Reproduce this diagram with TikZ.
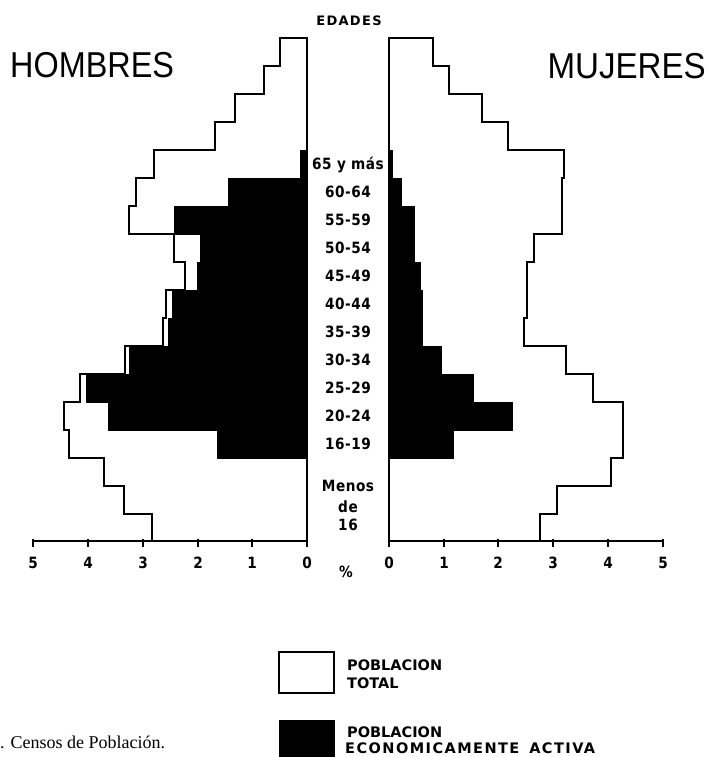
\documentclass[tikz,border=0pt]{standalone}
\usepackage{fontspec}
\setmainfont{Liberation Serif}
\newfontfamily\titlefont{Liberation Sans}
\newfontfamily\labfont{DejaVu Sans}[LetterSpace=4]
\newfontfamily\edfont{DejaVu Sans}[LetterSpace=10]
\newfontfamily\legfont{DejaVu Sans}
\newfontfamily\legwide{DejaVu Sans}[LetterSpace=10]
\begin{document}
\begin{tikzpicture}[x=1pt,y=-1pt,
  lab/.style={font={\labfont\bfseries\fontsize{15.5}{16}\selectfont},xscale=0.88,inner sep=0pt,anchor=base},
  leg/.style={font={\legfont\bfseries\fontsize{14.5}{15}\selectfont},inner sep=0pt,anchor=base west},
  ttl/.style={font={\titlefont\fontsize{36}{36}\selectfont},inner sep=0pt},
  totline/.style={line width=1.4pt,line join=miter},
  active/.style={fill=black,draw=black,line width=0.6pt},
  axisline/.style={line width=1.8pt},
  tick/.style={line width=1.5pt}]
\useasboundingbox (0,0) rectangle (708,757);

% ---------- male total ----------
\draw[totline] (307,541) -- (307,38) -- (280,38) -- (280,66) -- (264,66) -- (264,94)
  -- (235,94) -- (235,122) -- (215,122) -- (215,150) -- (154,150) -- (154,178)
  -- (136,178) -- (136,206) -- (129,206) -- (129,234) -- (174,234) -- (174,262)
  -- (185,262) -- (185,290) -- (166,290) -- (166,318) -- (163,318) -- (163,346)
  -- (125,346) -- (125,374) -- (80,374) -- (80,402) -- (64,402) -- (64,430)
  -- (69,430) -- (69,458) -- (104,458) -- (104,486) -- (124,486) -- (124,514)
  -- (152,514) -- (152,541);
% ---------- male active ----------
\filldraw[active] (307,150) -- (300,150) -- (300,178) -- (228,178) -- (228,206)
  -- (174,206) -- (174,234) -- (200,234) -- (200,262) -- (197,262) -- (197,290)
  -- (172,290) -- (172,318) -- (168,318) -- (168,346) -- (129,346) -- (129,374)
  -- (86,374) -- (86,402) -- (108,402) -- (108,430) -- (217,430) -- (217,458)
  -- (307,458) -- cycle;

% ---------- female total ----------
\draw[totline] (389,541) -- (389,38) -- (433,38) -- (433,66) -- (449,66) -- (449,94)
  -- (482,94) -- (482,122) -- (508,122) -- (508,150) -- (564,150) -- (564,178)
  -- (562,178) -- (562,234) -- (534,234) -- (534,262) -- (527,262) -- (527,318)
  -- (524,318) -- (524,346) -- (566,346) -- (566,374) -- (593,374) -- (593,402)
  -- (623,402) -- (623,458) -- (611,458) -- (611,486) -- (557,486) -- (557,514)
  -- (540,514) -- (540,541);
% ---------- female active ----------
\filldraw[active] (389,150) -- (392,150) -- (392,178) -- (401,178) -- (401,206)
  -- (414,206) -- (414,262) -- (420,262) -- (420,290) -- (422,290) -- (422,346)
  -- (441,346) -- (441,374) -- (473,374) -- (473,402) -- (512,402) -- (512,430)
  -- (453,430) -- (453,458) -- (389,458) -- cycle;

% ---------- axes ----------
\coordinate (lx0) at (307,541); \coordinate (lx5) at (33,541);
\coordinate (rx0) at (389,541); \coordinate (rx5) at (663,541);
\draw[axisline] (lx5) -- (lx0);
\draw[axisline] (rx0) -- (rx5);
\foreach \v/\px in {5/33,4/88,3/143,2/198,1/252,0/307}{
  \draw[tick] (\px,539) -- (\px,547);
  \node[lab] (lt\v) at (\px,568) {\v};
}
\foreach \v/\px in {0/389,1/444,2/498,3/553,4/608,5/663}{
  \draw[tick] (\px,539) -- (\px,547);
  \node[lab] (rt\v) at (\px,568) {\v};
}
\node[lab,anchor=center] (pct) at (346,572) {\%};

% ---------- titles ----------
\node[font={\edfont\bfseries\fontsize{13}{13}\selectfont},inner sep=0pt,anchor=base] (edades) at (349,26) {EDADES};
\node[ttl,anchor=base west] (hombres) at (10,78) {\scalebox{0.9}[1]{HOMBRES}};
\node[ttl,anchor=base east] (mujeres) at (706,79) {\scalebox{0.92}[1]{MUJERES}};

% ---------- age labels ----------
\node[lab] (a65) at (348,169) {65 y más};
\node[lab] (a60) at (348,197) {60-64};
\node[lab] (a55) at (348,225) {55-59};
\node[lab] (a50) at (348,253) {50-54};
\node[lab] (a45) at (348,281) {45-49};
\node[lab] (a40) at (348,309) {40-44};
\node[lab] (a35) at (348,337) {35-39};
\node[lab] (a30) at (348,365) {30-34};
\node[lab] (a25) at (348,393) {25-29};
\node[lab] (a20) at (348,421) {20-24};
\node[lab] (a16) at (348,449) {16-19};
\node[lab] (m1) at (348,491) {Menos};
\node[lab] (m2) at (348,512) {de};
\node[lab] (m3) at (348,530) {16};

% ---------- legend ----------
\node[draw,line width=1.5pt,minimum width=55pt,minimum height=41pt,inner sep=0pt] (boxw) at (306.5,672.5) {};
\node[fill=black,minimum width=56pt,minimum height=42pt,inner sep=0pt] (boxb) at (306.5,741) {};
\node[leg] (l1a) at (347,670) {POBLACION};
\node[leg] (l1b) at (347,688) {TOTAL};
\node[leg] (l2a) at (347,737) {POBLACION};
\node[leg,font={\legwide\bfseries\fontsize{14.5}{15}\selectfont}] (l2b) at (345,753) {ECONOMICAMENTE\hspace{10pt}ACTIVA};

% ---------- source ----------
\node[font=\fontsize{18}{18}\selectfont,inner sep=0pt,anchor=base west] (src) at (0,748) {. Censos de Población.};
\end{tikzpicture}
\end{document}
